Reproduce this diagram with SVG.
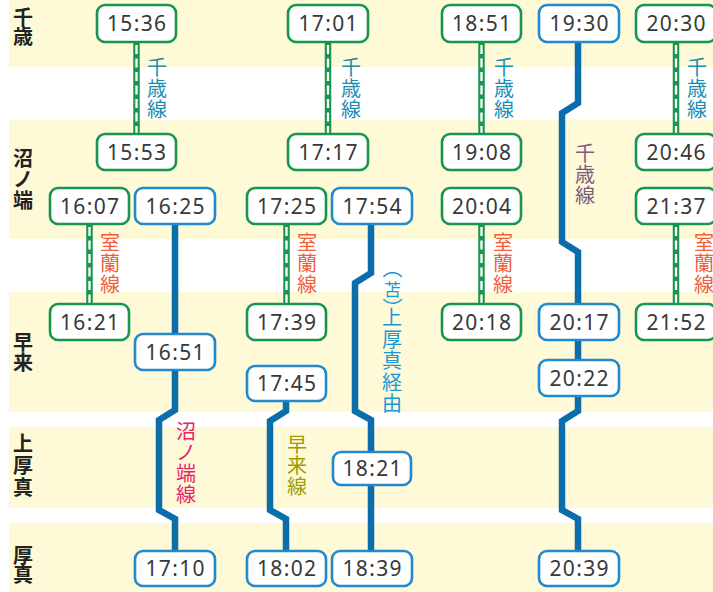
<svg xmlns="http://www.w3.org/2000/svg" width="713" height="592" viewBox="0 0 713 592">
<style>
.band{fill:#fef9d6}
.bx{fill:#fff;stroke-width:2.6}
.g .bx{stroke:#1a9550}
.b .bx{stroke:#2189cc}
.t{font-family:"Noto Sans","Open Sans",sans-serif;font-size:21px;fill:#383838;text-anchor:middle}
.st{font-family:"Noto Sans CJK JP",sans-serif;font-size:20px;fill:#222;text-anchor:middle;font-weight:700}
.lb{font-family:"Noto Sans CJK JP",sans-serif;font-size:20px;text-anchor:middle}
.gl{stroke:#1a9550;stroke-width:6.5;fill:none}
.gd{stroke:#fff;stroke-width:2.3;stroke-dasharray:9 4.5;stroke-dashoffset:-3;fill:none}
.bl{stroke:#0c6dab;stroke-width:6.5;fill:none;stroke-linejoin:miter}
.chitose{fill:#1b8db3}
.muroran{fill:#f0603c}
.numa{fill:#e8236e}
.haya{fill:#a39a00}
.kami{fill:#1a98d6}
.chitose2{fill:#7b5c80}
</style>
<g id="bands">
<rect class="band" x="9" y="0" width="704" height="67"/>
<rect class="band" x="9" y="120" width="704" height="119"/>
<rect class="band" x="9" y="292" width="704" height="120"/>
<rect class="band" x="9" y="427" width="704" height="81"/>
<rect class="band" x="9" y="523" width="704" height="69"/>
</g>
<g id="stations">
<text class="st"><tspan x="23" y="25">千</tspan><tspan x="23" y="44">歳</tspan></text>
<text class="st"><tspan x="23" y="166">沼</tspan><tspan x="23" y="187">ノ</tspan><tspan x="23" y="208">端</tspan></text>
<text class="st"><tspan x="23" y="350">早</tspan><tspan x="23" y="370">来</tspan></text>
<text class="st"><tspan x="23" y="451">上</tspan><tspan x="23" y="473">厚</tspan><tspan x="23" y="495">真</tspan></text>
<text class="st"><tspan x="23" y="563">厚</tspan><tspan x="23" y="582">真</tspan></text>
</g>
<g id="connectors">
<line class="gl" x1="136.5" y1="42" x2="136.5" y2="134"/><line class="gd" x1="136.5" y1="42" x2="136.5" y2="134"/>
<line class="gl" x1="89.5" y1="224" x2="89.5" y2="304"/><line class="gd" x1="89.5" y1="224" x2="89.5" y2="304"/>
<line class="gl" x1="328" y1="42" x2="328" y2="134"/><line class="gd" x1="328" y1="42" x2="328" y2="134"/>
<line class="gl" x1="286.5" y1="224" x2="286.5" y2="304"/><line class="gd" x1="286.5" y1="224" x2="286.5" y2="304"/>
<line class="gl" x1="481.5" y1="42" x2="481.5" y2="134"/><line class="gd" x1="481.5" y1="42" x2="481.5" y2="134"/>
<line class="gl" x1="481.5" y1="224" x2="481.5" y2="304"/><line class="gd" x1="481.5" y1="224" x2="481.5" y2="304"/>
<line class="gl" x1="676" y1="42" x2="676" y2="134"/><line class="gd" x1="676" y1="42" x2="676" y2="134"/>
<line class="gl" x1="676" y1="224" x2="676" y2="304"/><line class="gd" x1="676" y1="224" x2="676" y2="304"/>
<polyline class="bl" points="175,224 175,410 159,420 159,510 175,519 175,551"/>
<polyline class="bl" points="371,224 371,273 355,283 355,411 371,420 371,551"/>
<polyline class="bl" points="286,401 286,411 270,421 270,510 286,519 286,551"/>
<polyline class="bl" points="578,42 578,103 562,113 562,242 578,252 578,411 562,421 562,510 578,519 578,551"/>
</g>
<g id="line-labels">
<text class="lb chitose"><tspan x="157" y="75">千</tspan><tspan x="157" y="96">歳</tspan><tspan x="157" y="117">線</tspan></text>
<text class="lb chitose"><tspan x="351" y="75">千</tspan><tspan x="351" y="96">歳</tspan><tspan x="351" y="117">線</tspan></text>
<text class="lb chitose"><tspan x="504" y="75">千</tspan><tspan x="504" y="96">歳</tspan><tspan x="504" y="117">線</tspan></text>
<text class="lb chitose"><tspan x="697" y="75">千</tspan><tspan x="697" y="96">歳</tspan><tspan x="697" y="117">線</tspan></text>
<text class="lb muroran"><tspan x="110" y="250">室</tspan><tspan x="110" y="271">蘭</tspan><tspan x="110" y="292">線</tspan></text>
<text class="lb muroran"><tspan x="307" y="250">室</tspan><tspan x="307" y="271">蘭</tspan><tspan x="307" y="292">線</tspan></text>
<text class="lb muroran"><tspan x="503" y="250">室</tspan><tspan x="503" y="271">蘭</tspan><tspan x="503" y="292">線</tspan></text>
<text class="lb muroran"><tspan x="704" y="250">室</tspan><tspan x="704" y="271">蘭</tspan><tspan x="704" y="292">線</tspan></text>
<text class="lb numa"><tspan x="186" y="439">沼</tspan><tspan x="186" y="460">ノ</tspan><tspan x="186" y="481">端</tspan><tspan x="186" y="502">線</tspan></text>
<text class="lb haya"><tspan x="297" y="452">早</tspan><tspan x="297" y="473">来</tspan><tspan x="297" y="494">線</tspan></text>
<text class="lb chitose2"><tspan x="585" y="161">千</tspan><tspan x="585" y="182">歳</tspan><tspan x="585" y="203">線</tspan></text>
<text class="lb kami"><tspan x="392.5" y="276">︵</tspan><tspan x="392.5" y="296" style="font-size:17px">苫</tspan><tspan x="392.5" y="316">︶</tspan><tspan x="392" y="325">上</tspan><tspan x="392" y="346.5">厚</tspan><tspan x="392" y="368">真</tspan><tspan x="392" y="389.5">経</tspan><tspan x="392" y="411">由</tspan></text>
</g>
<g id="n1536" class="g"><rect class="bx" x="97" y="5" width="79" height="37" rx="8"/><text class="t" x="136.5" y="31" textLength="59">15:36</text></g>
<g id="n1553" class="g"><rect class="bx" x="97" y="134" width="79" height="36" rx="8"/><text class="t" x="136.5" y="159.5" textLength="59">15:53</text></g>
<g id="n1607" class="g"><rect class="bx" x="50" y="188" width="79" height="36" rx="8"/><text class="t" x="89.5" y="213.5" textLength="59">16:07</text></g>
<g id="n1621" class="g"><rect class="bx" x="50" y="304" width="79" height="36" rx="8"/><text class="t" x="89.5" y="329.5" textLength="59">16:21</text></g>
<g id="n1625" class="b"><rect class="bx" x="135" y="188" width="80" height="36" rx="8"/><text class="t" x="175" y="213.5" textLength="59">16:25</text></g>
<g id="n1651" class="b"><rect class="bx" x="135" y="334" width="80" height="36" rx="8"/><text class="t" x="175" y="359.5" textLength="59">16:51</text></g>
<g id="n1710" class="b"><rect class="bx" x="135" y="551" width="80" height="35" rx="8"/><text class="t" x="175" y="576" textLength="59">17:10</text></g>
<g id="n1701" class="g"><rect class="bx" x="288" y="5" width="80" height="37" rx="8"/><text class="t" x="328" y="31" textLength="59">17:01</text></g>
<g id="n1717" class="g"><rect class="bx" x="288" y="134" width="80" height="36" rx="8"/><text class="t" x="328" y="159.5" textLength="59">17:17</text></g>
<g id="n1725" class="g"><rect class="bx" x="247" y="188" width="79" height="36" rx="8"/><text class="t" x="286.5" y="213.5" textLength="59">17:25</text></g>
<g id="n1739" class="g"><rect class="bx" x="247" y="304" width="79" height="36" rx="8"/><text class="t" x="286.5" y="329.5" textLength="59">17:39</text></g>
<g id="n1745" class="b"><rect class="bx" x="247" y="366" width="79" height="35" rx="8"/><text class="t" x="286.5" y="391" textLength="59">17:45</text></g>
<g id="n1802" class="b"><rect class="bx" x="247" y="551" width="79" height="35" rx="8"/><text class="t" x="286.5" y="576" textLength="59">18:02</text></g>
<g id="n1754" class="b"><rect class="bx" x="332" y="188" width="80" height="36" rx="8"/><text class="t" x="372" y="213.5" textLength="59">17:54</text></g>
<g id="n1821" class="b"><rect class="bx" x="333" y="452" width="78" height="33" rx="8"/><text class="t" x="372" y="476" textLength="59">18:21</text></g>
<g id="n1839" class="b"><rect class="bx" x="332" y="551" width="80" height="35" rx="8"/><text class="t" x="372" y="576" textLength="59">18:39</text></g>
<g id="n1851" class="g"><rect class="bx" x="442" y="5" width="79" height="37" rx="8"/><text class="t" x="481.5" y="31" textLength="59">18:51</text></g>
<g id="n1908" class="g"><rect class="bx" x="442" y="134" width="79" height="36" rx="8"/><text class="t" x="481.5" y="159.5" textLength="59">19:08</text></g>
<g id="n2004" class="g"><rect class="bx" x="442" y="188" width="79" height="36" rx="8"/><text class="t" x="481.5" y="213.5" textLength="59">20:04</text></g>
<g id="n2018" class="g"><rect class="bx" x="442" y="304" width="79" height="36" rx="8"/><text class="t" x="481.5" y="329.5" textLength="59">20:18</text></g>
<g id="n1930" class="b"><rect class="bx" x="539" y="5" width="80" height="37" rx="8"/><text class="t" x="579" y="31" textLength="59">19:30</text></g>
<g id="n2017" class="b"><rect class="bx" x="539" y="304" width="80" height="36" rx="8"/><text class="t" x="579" y="329.5" textLength="59">20:17</text></g>
<g id="n2022" class="b"><rect class="bx" x="539" y="360" width="80" height="36" rx="8"/><text class="t" x="579" y="385.5" textLength="59">20:22</text></g>
<g id="n2039" class="b"><rect class="bx" x="539" y="551" width="80" height="35" rx="8"/><text class="t" x="579" y="576" textLength="59">20:39</text></g>
<g id="n2030" class="g"><rect class="bx" x="636" y="5" width="80" height="37" rx="8"/><text class="t" x="676" y="31" textLength="59">20:30</text></g>
<g id="n2046" class="g"><rect class="bx" x="636" y="134" width="80" height="36" rx="8"/><text class="t" x="676" y="159.5" textLength="59">20:46</text></g>
<g id="n2137" class="g"><rect class="bx" x="636" y="188" width="80" height="36" rx="8"/><text class="t" x="676" y="213.5" textLength="59">21:37</text></g>
<g id="n2152" class="g"><rect class="bx" x="636" y="304" width="80" height="36" rx="8"/><text class="t" x="676" y="329.5" textLength="59">21:52</text></g>
</svg>
